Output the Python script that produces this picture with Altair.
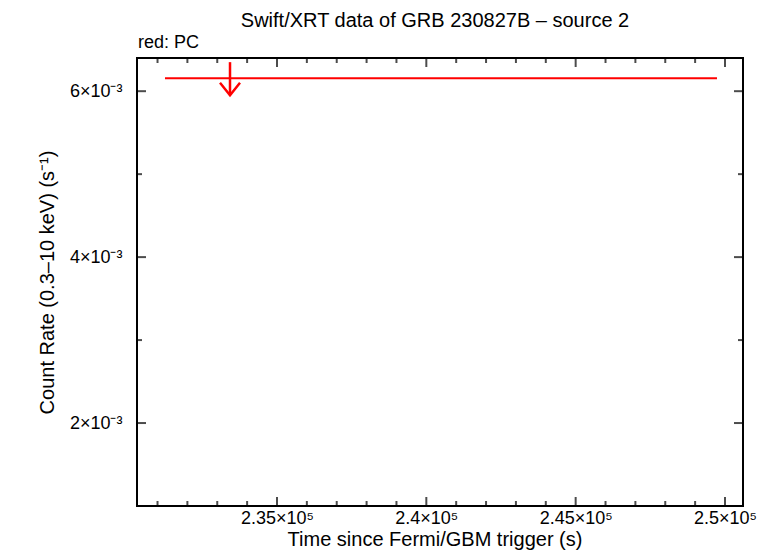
import altair as alt
import pandas as pd

# ---- data ----
ul_time = [233427.0]
ul_start = [231250.0]
ul_stop = [249732.0]
ul_rate = [0.006157]
arrow_top = [0.00635]
arrow_tip = [0.005952]

x_domain = [230313.0, 250603.0]
y_domain = [0.001, 0.0064]

x_major = [235000, 240000, 245000, 250000]
x_major_labels = ["2.35×10⁵", "2.4×10⁵", "2.45×10⁵", "2.5×10⁵"]
x_minor = [231000, 232000, 233000, 234000, 236000, 237000, 238000, 239000,
           241000, 242000, 243000, 244000, 246000, 247000, 248000, 249000]
y_major = [0.002, 0.004, 0.006]
y_major_labels = ["2×10⁻³", "4×10⁻³", "6×10⁻³"]
y_minor = [0.003, 0.005]

title_text = ["Swift/XRT data of GRB 230827B – source 2"]
legend_label = ["red: PC"]
x_title = ["Time since Fermi/GBM trigger (s)"]

FONT = "Liberation Sans"
RED = "#ff0000"
W, H = 606, 448


def label_expr(values, labels, eps):
    expr = "''"
    for v, l in zip(reversed(values), reversed(labels)):
        expr = f"abs(datum.value - {v}) < {eps} ? '{l}' : ({expr})"
    return expr


xs = alt.Scale(domain=x_domain, nice=False, zero=False)
ys = alt.Scale(domain=y_domain, nice=False, zero=False)

ul = pd.DataFrame({"t": ul_time, "t0": ul_start, "t1": ul_stop, "r": ul_rate,
                   "atop": arrow_top, "atip": arrow_tip})

base = alt.Chart(ul)

hline = base.mark_rule(color=RED, strokeWidth=2).encode(
    x=alt.X("t0:Q", scale=xs,
            axis=alt.Axis(values=x_major, labelExpr=label_expr(x_major, x_major_labels, 1),
                          title=None, ticks=False, domain=False,
                          grid=False, labelPadding=3, labelFont=FONT, labelFontSize=18,
                          labelColor="black")),
    x2="t1:Q",
    y=alt.Y("r:Q", scale=ys,
            axis=alt.Axis(values=y_major, labelExpr=label_expr(y_major, y_major_labels, 1e-5),
                          title="Count Rate (0.3–10 keV) (s⁻¹)", ticks=False, domain=False,
                          grid=False, labelPadding=15, labelFont=FONT, labelFontSize=18,
                          labelColor="black", titleFont=FONT, titleFontSize=20,
                          titleFontWeight="normal", titleColor="black", titlePadding=12)),
)

vline = base.mark_rule(color=RED, strokeWidth=2.5).encode(
    x=alt.X("t:Q", scale=xs), y=alt.Y("atop:Q", scale=ys), y2="atip:Q")

head = base.mark_point(shape="M-1,-1.25L0,0L1,-1.25", size=400, filled=False,
                       color=RED, strokeWidth=2.5, opacity=1).encode(
    x=alt.X("t:Q", scale=xs), y=alt.Y("atip:Q", scale=ys))

# inward ticks on all four sides
xmaj = pd.DataFrame({"v": x_major})
xmin = pd.DataFrame({"v": x_minor})
ymaj = pd.DataFrame({"v": y_major})
ymin = pd.DataFrame({"v": y_minor})

tick_layers = []
for df, size in [(xmaj, 18), (xmin, 10)]:
    for ypos in [0, H]:
        tick_layers.append(alt.Chart(df).mark_tick(color="black", thickness=2, size=size,
                                                   clip=True, orient="vertical").encode(
            x=alt.X("v:Q", scale=xs), y=alt.value(ypos)))
for df, size in [(ymaj, 18), (ymin, 10)]:
    for xpos in [0, W]:
        tick_layers.append(alt.Chart(df).mark_tick(color="black", thickness=2, size=size,
                                                   clip=True, orient="horizontal").encode(
            y=alt.Y("v:Q", scale=ys), x=alt.value(xpos)))

legend_text = alt.Chart(pd.DataFrame({"s": legend_label})).mark_text(
    align="left", baseline="alphabetic", font=FONT, fontSize=18, color="black").encode(
    x=alt.value(1), y=alt.value(-10), text="s:N")

title_mark = alt.Chart(pd.DataFrame({"s": title_text})).mark_text(
    align="center", baseline="alphabetic", font=FONT, fontSize=20, color="black").encode(
    x=alt.value(W / 2 - 5), y=alt.value(-31), text="s:N")

xtitle_mark = alt.Chart(pd.DataFrame({"s": x_title})).mark_text(
    align="center", baseline="alphabetic", font=FONT, fontSize=20, color="black").encode(
    x=alt.value(W / 2 - 5), y=alt.value(H + 40), text="s:N")

chart = alt.layer(*tick_layers, hline, vline, head, legend_text, title_mark,
                  xtitle_mark).properties(
    width=W, height=H,
    autosize=alt.AutoSizeParams(type="none"),
    padding={"left": 129, "top": 50, "right": 23, "bottom": 44},
).configure(background="white").configure_view(stroke="black", strokeWidth=2)

chart.save("out.html", embed_options={"renderer": "svg", "actions": False})
